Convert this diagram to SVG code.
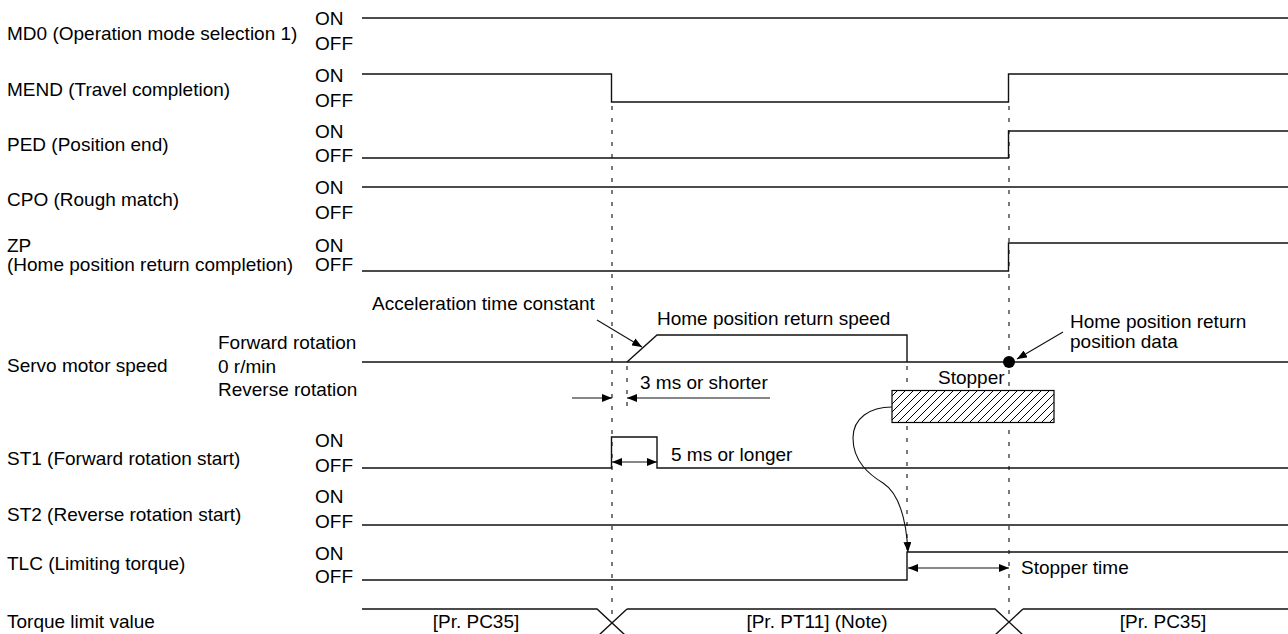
<svg xmlns="http://www.w3.org/2000/svg" width="1288" height="634" viewBox="0 0 1288 634">
<style>
text{font-family:"Liberation Sans",Arial,sans-serif;font-size:19px;fill:#000}
.mid{text-anchor:middle}
.sig{fill:none;stroke:#111;stroke-width:1.4}
.dash{fill:none;stroke:#222;stroke-width:1.2;stroke-dasharray:4 8}
.arr{fill:none;stroke:#111;stroke-width:1.1}
</style>
<defs>
<marker id="ah" viewBox="0 0 10 8" refX="10" refY="4" markerWidth="10" markerHeight="8" markerUnits="userSpaceOnUse" orient="auto-start-reverse">
<path d="M0,0 L10,4 L0,8 z" fill="#000"/>
</marker>
<pattern id="hatch" patternUnits="userSpaceOnUse" width="8" height="8">
<path d="M-2,10 L10,-2 M-2,2 L2,-2 M6,10 L10,6" stroke="#000" stroke-width="1"/>
</pattern>
</defs>
<rect width="1288" height="634" fill="#fff"/>

<g id="labels">
<text x="7" y="40">MD0 (Operation mode selection 1)</text>
<text x="315" y="25">ON</text><text x="315" y="50">OFF</text>
<text x="7" y="96">MEND (Travel completion)</text>
<text x="315" y="82">ON</text><text x="315" y="107">OFF</text>
<text x="7" y="151">PED (Position end)</text>
<text x="315" y="138">ON</text><text x="315" y="162">OFF</text>
<text x="7" y="206">CPO (Rough match)</text>
<text x="315" y="194">ON</text><text x="315" y="219">OFF</text>
<text x="7" y="252">ZP</text>
<text x="7" y="271">(Home position return completion)</text>
<text x="315" y="252">ON</text><text x="315" y="271">OFF</text>
<text x="7" y="372">Servo motor speed</text>
<text x="218" y="349">Forward rotation</text>
<text x="218" y="373">0 r/min</text>
<text x="218" y="396">Reverse rotation</text>
<text x="7" y="465">ST1 (Forward rotation start)</text>
<text x="315" y="447">ON</text><text x="315" y="472">OFF</text>
<text x="7" y="521">ST2 (Reverse rotation start)</text>
<text x="315" y="503">ON</text><text x="315" y="528">OFF</text>
<text x="7" y="570">TLC (Limiting torque)</text>
<text x="315" y="560">ON</text><text x="315" y="583">OFF</text>
<text x="7" y="628">Torque limit value</text>
</g>

<g id="guides">
<line class="dash" x1="612" y1="106" x2="612" y2="620"/>
<line class="dash" x1="1009" y1="106" x2="1009" y2="620"/>
<line class="dash" x1="907" y1="366" x2="907" y2="550"/>
<line class="dash" x1="627" y1="366" x2="627" y2="410"/>
</g>

<g id="signals">
<path class="sig" d="M362,18 H1288"/>
<path class="sig" d="M362,74 H611.5 V102 H1008.5 V74 H1288"/>
<path class="sig" d="M362,158 H1008.5 V131 H1288"/>
<path class="sig" d="M362,187 H1288"/>
<path class="sig" d="M362,271 H1008.5 V243 H1288"/>
<path class="sig" d="M362,362 H1288"/>
<path class="sig" d="M627,362 L657,335 H907 V362"/>
<path class="sig" d="M362,468 H611.5 V437 H657 V468 H1288"/>
<path class="sig" d="M362,525 H1288"/>
<path class="sig" d="M362,580 H907 V552 H1288"/>
<path class="sig" d="M362,609 H597 L625,635 M627,609 L599,635 M627,609 H995 L1023,635 M1023,609 L995,635 M1023,609 H1288"/>
</g>

<g id="stopper">
<rect x="892" y="390.5" width="162" height="32" fill="#fff"/>
<rect x="892" y="390.5" width="162" height="32" fill="url(#hatch)" stroke="#000" stroke-width="1.2"/>
<text x="938" y="384">Stopper</text>
</g>

<g id="home-dot">
<circle cx="1009" cy="362" r="6" fill="#000"/>
</g>

<g id="connectors">
<line class="arr" x1="597" y1="320" x2="642" y2="347" marker-end="url(#ah)"/>
<line class="arr" x1="1063" y1="332" x2="1017" y2="359" marker-end="url(#ah)"/>
<line class="arr" x1="572" y1="398" x2="612" y2="398" marker-end="url(#ah)"/>
<line class="arr" x1="770" y1="398" x2="627" y2="398" marker-end="url(#ah)"/>
<line class="arr" x1="612" y1="462" x2="657" y2="462" marker-start="url(#ah)" marker-end="url(#ah)"/>
<line class="arr" x1="908" y1="568" x2="1009" y2="568" marker-start="url(#ah)" marker-end="url(#ah)"/>
<path class="arr" d="M892,407 C870,407 853,418 853,438 C853,462 870,475 883,483 C897,492 906,515 908,552" marker-end="url(#ah)"/>
</g>

<g id="annotations">
<text x="372" y="310">Acceleration time constant</text>
<text x="657" y="325">Home position return speed</text>
<text x="1070" y="328">Home position return</text>
<text x="1070" y="348">position data</text>
<text x="640" y="389">3 ms or shorter</text>
<text x="671" y="461">5 ms or longer</text>
<text x="1021" y="574">Stopper time</text>
<text class="mid" x="476" y="628">[Pr. PC35]</text>
<text class="mid" x="817" y="628">[Pr. PT11] (Note)</text>
<text class="mid" x="1163" y="628">[Pr. PC35]</text>
</g>
</svg>
